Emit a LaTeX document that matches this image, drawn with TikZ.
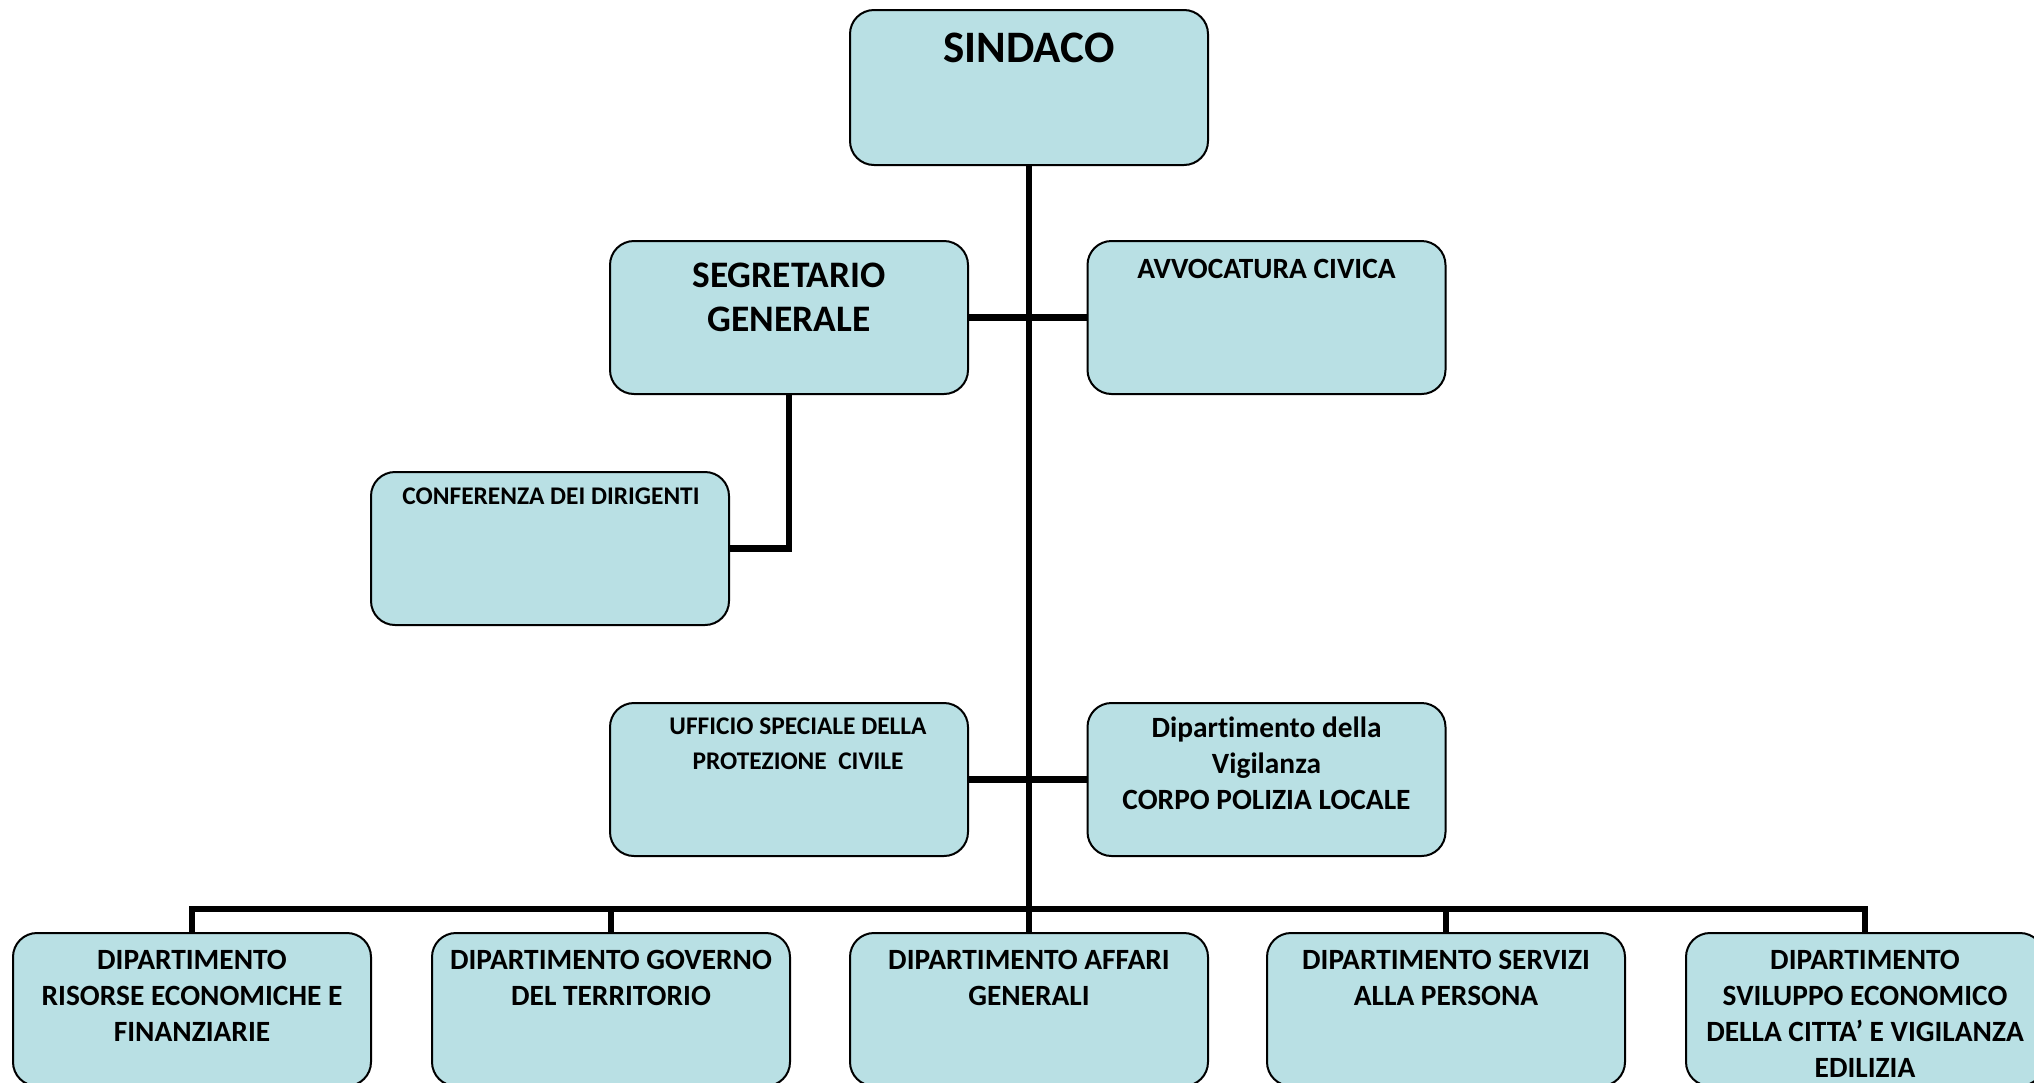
\documentclass[tikz,border=0pt]{standalone}
\usepackage{fontspec}
\setmainfont{Carlito}[Ligatures=NoCommon]
\usetikzlibrary{calc}
\definecolor{boxfill}{HTML}{B9E0E4}
\begin{document}
\begin{tikzpicture}[x=0.5pt,y=-0.5pt,
  box/.style={draw=black, line width=1pt, fill=boxfill, rounded corners=12pt,
    minimum width=179pt, minimum height=76.5pt, inner sep=0pt},
  conn/.style={line width=3.2pt},
  lbl/.style={anchor=base, inner sep=0pt},
  fbig/.style={font=\fontsize{22.5}{27}\selectfont\bfseries},
  fseg/.style={font=\fontsize{18.7}{22}\selectfont\bfseries},
  fmid/.style={font=\fontsize{14.7}{18}\selectfont\bfseries},
  fsmall/.style={font=\fontsize{12.7}{17.5}\selectfont\bfseries}]
\useasboundingbox (0,0) rectangle (2034,1082);
\clip (0,0) rectangle (2034,1082);
% boxes
\node[box, minimum height=77.5pt] (sind) at (1029,87.5) {};
\node[box] (seg) at (789,317.5) {};
\node[box] (avv) at (1266.5,317.5) {};
\node[box] (conf) at (550,548.5) {};
\node[box] (uff) at (789,779.5) {};
\node[box] (vig) at (1266.5,779.5) {};
\node[box] (d1) at (192,1009.5) {};
\node[box] (d2) at (611,1009.5) {};
\node[box] (d3) at (1029,1009.5) {};
\node[box] (d4) at (1446,1009.5) {};
\node[box] (d5) at (1865,1009.5) {};
% connectors
\coordinate (bus) at (0,909);
\draw[conn] (sind.south) -- (d3.north);
\draw[conn] (d1.north) |- (bus -| d5.north) -- (d5.north);
\draw[conn] (d2.north) -- (d2.north |- bus);
\draw[conn] (d4.north) -- (d4.north |- bus);
\draw[conn] (seg.east) -- (avv.west);
\draw[conn] (uff.east) -- (vig.west);
\draw[conn] (seg.south) |- (conf.east);
% texts
\node[lbl, fbig] (tsind) at ($(sind.north)+(0,53)$) {\parbox[t]{175pt}{\centering SINDACO}};
\node[lbl, fseg] (tseg) at ($(seg.north)+(0,47)$) {\parbox[t]{175pt}{\centering SEGRETARIO\\GENERALE}};
\node[lbl, fmid] (tavv) at ($(avv.north)+(0,38)$) {\parbox[t]{175pt}{\centering AVVOCATURA CIVICA}};
\node[lbl, fsmall] (tconf) at ($(conf.north)+(1,33)$) {\parbox[t]{175pt}{\centering CONFERENZA DEI DIRIGENTI}};
\node[lbl, fsmall] (tuff) at ($(uff.north)+(9,32)$) {\parbox[t]{175pt}{\centering UFFICIO SPECIALE DELLA\\PROTEZIONE\ \ CIVILE}};
\node[lbl, fmid] (tvig) at ($(vig.north)+(0,35)$) {\parbox[t]{175pt}{\centering Dipartimento della\\Vigilanza\\CORPO POLIZIA LOCALE}};
\node[lbl, fmid] (td1) at ($(d1.north)+(0,37)$) {\parbox[t]{175pt}{\centering DIPARTIMENTO\\RISORSE ECONOMICHE E\\FINANZIARIE}};
\node[lbl, fmid] (td2) at ($(d2.north)+(0,37)$) {\parbox[t]{175pt}{\centering DIPARTIMENTO GOVERNO\\DEL TERRITORIO}};
\node[lbl, fmid] (td3) at ($(d3.north)+(0,37)$) {\parbox[t]{175pt}{\centering DIPARTIMENTO AFFARI\\GENERALI}};
\node[lbl, fmid] (td4) at ($(d4.north)+(0,37)$) {\parbox[t]{175pt}{\centering DIPARTIMENTO SERVIZI\\ALLA PERSONA}};
\node[lbl, fmid] (td5) at ($(d5.north)+(0,37)$) {\parbox[t]{175pt}{\centering DIPARTIMENTO\\SVILUPPO ECONOMICO\\DELLA CITTA’ E VIGILANZA\\EDILIZIA}};
\end{tikzpicture}
\end{document}
